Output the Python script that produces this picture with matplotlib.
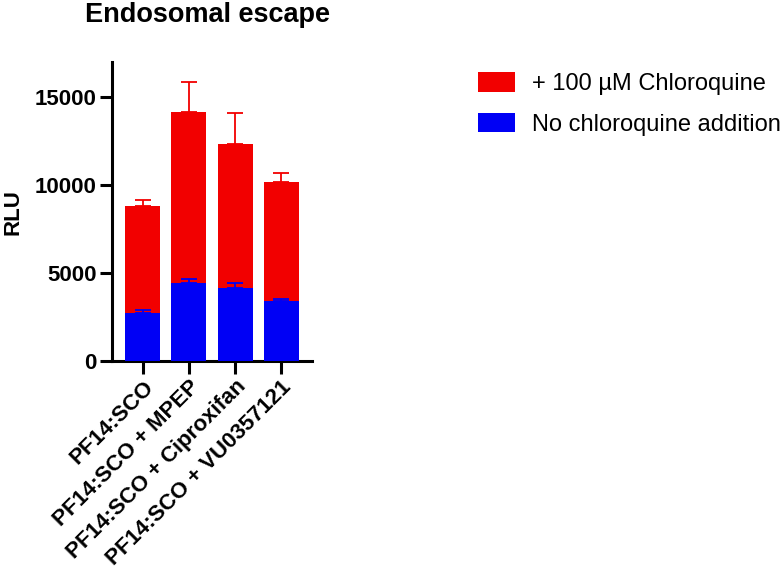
import matplotlib

matplotlib.use("Agg")
import matplotlib.pyplot as plt
from matplotlib.patches import Patch

plt.rcParams["font.family"] = ["Liberation Sans", "DejaVu Sans"]

# ── Data ──────────────────────────────────────────────────────────────────────
groups = ["PF14:SCO", "PF14:SCO + MPEP", "PF14:SCO + Ciproxifan", "PF14:SCO + VU0357121"]
chloro_mean = [8820, 14170, 12310, 10190]
chloro_err = [360, 1700, 1770, 510]
no_chloro_mean = [2730, 4450, 4160, 3390]
no_chloro_err = [150, 190, 300, 150]
yticks = [0, 5000, 10000, 15000]

RED = "#f20000"
BLUE = "#0000f5"

fig = plt.figure(figsize=(7.83, 5.73), dpi=100)
ax = fig.add_axes([112 / 783, 1 - 361 / 573, 200 / 783, 299 / 573])

x = list(range(len(groups)))
bw = 0.76

ax.bar(x, chloro_mean, width=bw, color=RED, zorder=2)
ax.errorbar(x, chloro_mean, yerr=[[0] * len(x), chloro_err], fmt="none",
            ecolor=RED, elinewidth=1.3, capsize=6, capthick=1.3, zorder=1)
ax.bar(x, no_chloro_mean, width=bw, color=BLUE, zorder=3)
ax.errorbar(x, no_chloro_mean, yerr=[[0] * len(x), no_chloro_err], fmt="none",
            ecolor=BLUE, elinewidth=1.3, capsize=6, capthick=1.3, zorder=4)

ax.set_xlim(-0.67, 3.67)
ax.set_ylim(0, 17000)
ax.set_yticks(yticks)
ax.set_yticklabels([str(v) for v in yticks], fontsize=16, fontweight="bold")
ax.set_xticks(x)
ax.set_xticklabels(groups, rotation=45, ha="right", rotation_mode="anchor",
                   fontsize=16, fontweight="bold")

for side in ("top", "right"):
    ax.spines[side].set_visible(False)
for side in ("left", "bottom"):
    ax.spines[side].set_linewidth(2.2)
ax.tick_params(axis="both", width=2.2, length=9, pad=2)

ax.set_ylabel("RLU", fontsize=16, fontweight="bold")
ax.yaxis.set_label_coords(-88 / 200, 149 / 299)
fig.text(85 / 783, 1 - 22 / 573, "Endosomal escape", ha="left", va="baseline",
         fontsize=19.5, fontweight="bold")

handles = [Patch(facecolor=RED, edgecolor="none"), Patch(facecolor=BLUE, edgecolor="none")]
fig.legend(handles, ["+ 100 µM Chloroquine", "No chloroquine addition"],
           loc="upper left", bbox_to_anchor=(478 / 783, 1 - 72 / 573),
           frameon=False, fontsize=17, handlelength=1.57, handleheight=0.9,
           labelspacing=0.76, handletextpad=0.72, borderpad=0, borderaxespad=0)

fig.savefig("out.png", dpi=100)
